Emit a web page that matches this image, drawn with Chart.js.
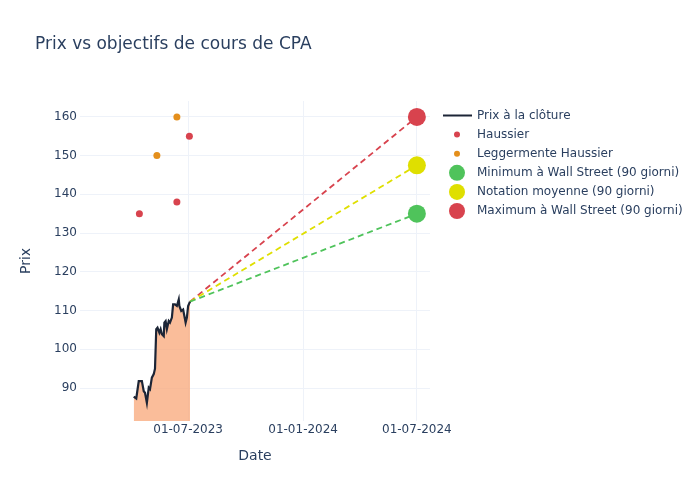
<!DOCTYPE html>
<html>
<head>
<meta charset="utf-8">
<script src="https://cdn.jsdelivr.net/npm/chart.js@4.4.1/dist/chart.umd.min.js"></script>
<style>
  html, body { margin: 0; padding: 0; background: #fff; }
  #wrap { width: 700px; height: 500px; position: relative; }
</style>
</head>
<body>
<div id="wrap"><canvas id="chart" width="700" height="500"></canvas></div>
<script>
// Closing prices
const priceDates = ["2023-04-05","2023-04-09","2023-04-13","2023-04-18","2023-04-21","2023-04-23","2023-04-26","2023-04-29","2023-05-01","2023-05-04","2023-05-07","2023-05-09","2023-05-11","2023-05-13","2023-05-16","2023-05-18","2023-05-20","2023-05-23","2023-05-24","2023-05-26","2023-05-28","2023-05-31","2023-06-02","2023-06-05","2023-06-07","2023-06-10","2023-06-13","2023-06-16","2023-06-17","2023-06-20","2023-06-23","2023-06-25","2023-06-27","2023-06-29","2023-07-01","2023-07-04"];
const priceValues = [87.8,87.3,91.8,91.8,89.2,88.8,86.2,90.1,89.7,92.7,93.6,95.0,105.2,105.6,104.3,105.2,103.9,103.4,106.9,107.3,105.2,107.3,106.9,108.2,111.6,111.6,111.2,112.9,111.2,109.9,110.3,108.6,106.9,108.2,111.2,112.3];

// Analyst ratings
const haussierDates = ["2023-04-14","2023-06-13","2023-07-03"];
const haussierValues = [135,138,155];
const leggDates = ["2023-05-12","2023-06-13"];
const leggValues = [150,160];

// Wall Street targets (90 days)
const targetDate = "2024-07-01";
const targetLabels = ["Minimum à Wall Street (90 giorni)","Notation moyenne (90 giorni)","Maximum à Wall Street (90 giorni)"];
const targetValues = [135,147.5,160];
const targetColors = ["#4fc35b","#dfdf00","#d8434e"];

// Axes
const xTickDates = ["2023-07-01","2024-01-01","2024-07-01"];
const yTicks = [90,100,110,120,130,140,150,160];
const xRange = ["2023-01-09","2024-07-22"];
const yRange = [81.5,164.1];

const FONT = "'DejaVu Sans', Verdana, sans-serif";
const TXT = "#2a3f5f";
const GRID = "#eef2f9";
const ts = s => Date.parse(s);
const pad2 = n => (n < 10 ? "0" : "") + n;

const lastX = ts(priceDates[priceDates.length - 1]);
const lastY = priceValues[priceValues.length - 1];

const datasets = [];
// dashed projection lines (drawn first)
targetValues.forEach((v, i) => {
  datasets.push({
    label: "proj" + i,
    data: [{x: lastX, y: lastY}, {x: ts(targetDate), y: v}],
    borderColor: targetColors[i],
    borderWidth: 1.8,
    borderDash: [6, 4],
    pointRadius: 0,
    showLine: true,
    fill: false,
    order: 5
  });
});
datasets.push({
  label: "Prix à la clôture",
  data: priceDates.map((d, i) => ({x: ts(d), y: priceValues[i]})),
  borderColor: "#1c2536",
  borderWidth: 2.2,
  backgroundColor: "rgba(248,170,125,0.78)",
  fill: "start",
  pointRadius: 0,
  showLine: true,
  tension: 0,
  order: 4
});
datasets.push({
  label: "Haussier",
  data: haussierDates.map((d, i) => ({x: ts(d), y: haussierValues[i]})),
  backgroundColor: "#d8434e",
  borderWidth: 0,
  pointRadius: 3.5,
  showLine: false,
  order: 1
});
datasets.push({
  label: "Leggermente Haussier",
  data: leggDates.map((d, i) => ({x: ts(d), y: leggValues[i]})),
  backgroundColor: "#e48f1c",
  borderWidth: 0,
  pointRadius: 3.5,
  showLine: false,
  order: 1
});
targetValues.forEach((v, i) => {
  datasets.push({
    label: targetLabels[i],
    data: [{x: ts(targetDate), y: v}],
    backgroundColor: targetColors[i],
    borderWidth: 0,
    pointRadius: 9,
    showLine: false,
    order: 0
  });
});

// legend entries
const legendItems = [
  {label: "Prix à la clôture", type: "line", color: "#1c2536"},
  {label: "Haussier", type: "dot", r: 3, color: "#d8434e"},
  {label: "Leggermente Haussier", type: "dot", r: 3, color: "#e48f1c"},
  {label: targetLabels[0], type: "dot", r: 8, color: targetColors[0]},
  {label: targetLabels[1], type: "dot", r: 8, color: targetColors[1]},
  {label: targetLabels[2], type: "dot", r: 8, color: targetColors[2]}
];

const decor = {
  id: "decor",
  afterDraw(chart) {
    const ctx = chart.ctx;
    ctx.save();
    ctx.fillStyle = TXT;
    ctx.font = "17px " + FONT;
    ctx.textBaseline = "middle";
    ctx.textAlign = "left";
    ctx.fillText("Prix vs objectifs de cours de CPA", 35, 45);
    ctx.font = "12px " + FONT;
    legendItems.forEach((it, i) => {
      const y = 115.5 + i * 19.1;
      if (it.type === "line") {
        ctx.strokeStyle = it.color;
        ctx.lineWidth = 2;
        ctx.beginPath();
        ctx.moveTo(443, y);
        ctx.lineTo(472, y);
        ctx.stroke();
      } else {
        ctx.fillStyle = it.color;
        ctx.beginPath();
        ctx.arc(457, y, it.r, 0, Math.PI * 2);
        ctx.fill();
      }
      ctx.fillStyle = TXT;
      ctx.fillText(it.label, 477, y);
    });
    ctx.restore();
  }
};

new Chart(document.getElementById("chart"), {
  type: "scatter",
  data: {datasets},
  plugins: [decor],
  options: {
    responsive: false,
    animation: false,
    layout: {padding: {left: 0, right: 270, top: 101, bottom: 0}},
    plugins: {legend: {display: false}, tooltip: {enabled: false}, title: {display: false}},
    scales: {
      x: {
        type: "linear",
        min: ts(xRange[0]),
        max: ts(xRange[1]),
        afterBuildTicks: s => { s.ticks = xTickDates.map(d => ({value: ts(d)})); },
        afterFit: s => { s.height = 79; },
        ticks: {
          color: TXT,
          font: {family: FONT, size: 12},
          padding: 2,
          maxRotation: 0,
          callback: v => { const d = new Date(v); return pad2(d.getUTCDate()) + "-" + pad2(d.getUTCMonth() + 1) + "-" + d.getUTCFullYear(); }
        },
        grid: {color: GRID, drawTicks: false},
        border: {display: false},
        title: {display: true, text: "Date", color: TXT, font: {family: FONT, size: 14}, padding: {top: 0, bottom: 35}}
      },
      y: {
        min: yRange[0],
        max: yRange[1],
        afterBuildTicks: s => { s.ticks = yTicks.map(v => ({value: v})); },
        afterFit: s => { s.width = 80; },
        ticks: {color: TXT, font: {family: FONT, size: 12}, padding: 3},
        grid: {color: GRID, drawTicks: false},
        border: {display: false},
        title: {display: true, text: "Prix", color: TXT, font: {family: FONT, size: 14}, padding: {top: 18, bottom: 0}}
      }
    }
  }
});
</script>
</body>
</html>
